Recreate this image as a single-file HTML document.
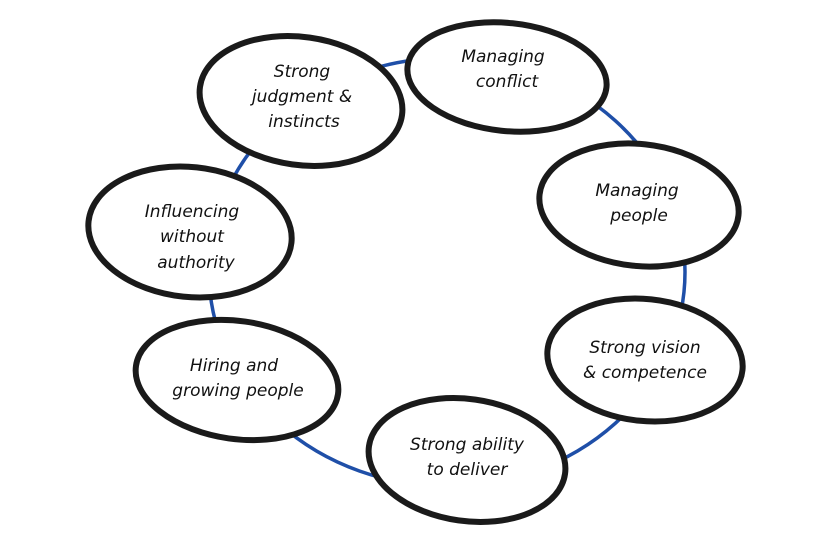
<!DOCTYPE html>
<html><head><meta charset="utf-8"><style>
html,body{margin:0;padding:0;background:#fff;}
svg{display:block;}
text{font-family:"DejaVu Sans","Liberation Sans",sans-serif;font-style:italic;font-size:17px;fill:#111;text-anchor:middle;}
</style></head><body>
<svg width="840" height="534" viewBox="0 0 840 534">
<ellipse cx="447" cy="272" rx="238" ry="214" fill="none" stroke="#1f4fa8" stroke-width="3.5"/>
<g fill="#fff" stroke="#1a1a1a" stroke-width="6">
<ellipse cx="301" cy="101" rx="102" ry="64" transform="rotate(8 301 101)"/>
<ellipse cx="507" cy="77" rx="100" ry="54" transform="rotate(6 507 77)"/>
<ellipse cx="639" cy="205" rx="100" ry="61" transform="rotate(6 639 205)"/>
<ellipse cx="645" cy="360" rx="98" ry="61" transform="rotate(6 645 360)"/>
<ellipse cx="467" cy="460" rx="99" ry="61" transform="rotate(8 467 460)"/>
<ellipse cx="237" cy="380" rx="102" ry="59" transform="rotate(8 237 380)"/>
<ellipse cx="190" cy="232" rx="102" ry="65" transform="rotate(6 190 232)"/>
</g>
<text x="302" y="77">Strong</text>
<text x="302" y="102">judgment &amp;</text>
<text x="304" y="127">instincts</text>
<text x="503" y="62">Managing</text>
<text x="507" y="87">conflict</text>
<text x="637" y="196">Managing</text>
<text x="639" y="221">people</text>
<text x="645" y="353">Strong vision</text>
<text x="645" y="378">&amp; competence</text>
<text x="467" y="450">Strong ability</text>
<text x="467" y="475">to deliver</text>
<text x="234" y="371">Hiring and</text>
<text x="238" y="396">growing people</text>
<text x="192" y="217">Influencing</text>
<text x="192" y="242">without</text>
<text x="196" y="268">authority</text>
</svg>
</body></html>
